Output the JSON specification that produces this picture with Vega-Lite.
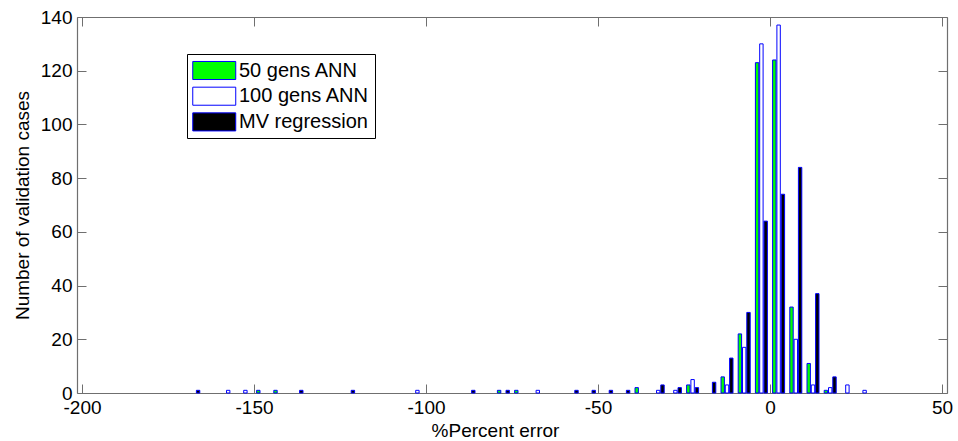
{
  "$schema": "https://vega.github.io/schema/vega-lite/v6.json",
  "width": 870,
  "height": 376,
  "autosize": {"type": "none"},
  "padding": {"left": 77, "top": 17, "right": 11, "bottom": 48},
  "background": "white",
  "config": {
    "font": "Liberation Sans",
    "view": {"stroke": null},
    "axis": {"grid": false, "domainColor": "#6f6f6f", "tickColor": "#6f6f6f", "labelColor": "black", "titleColor": "black", "labelFontSize": 19, "titleFontSize": 19, "titleFontWeight": "normal", "tickSize": -9, "domainWidth": 1.2},
    "legend": {"orient": "none", "legendX": 110, "legendY": 37, "symbolType": "M-1,-0.84L3,-0.84L3,0.84L-1,0.84Z", "symbolSize": 462, "symbolStrokeColor": "#0000ff", "symbolStrokeWidth": 1, "labelFontSize": 20, "strokeColor": "black", "fillColor": "white", "padding": 5, "rowPadding": 2.7, "labelOffset": 24, "symbolOpacity": 1}
  },
  "data": {"values": [
    {"bin": -147.5, "series": "50 gens ANN", "count": 1},
    {"bin": -142.5, "series": "50 gens ANN", "count": 1},
    {"bin": -77.5, "series": "50 gens ANN", "count": 1},
    {"bin": -72.5, "series": "50 gens ANN", "count": 1},
    {"bin": -37.5, "series": "50 gens ANN", "count": 2},
    {"bin": -22.5, "series": "50 gens ANN", "count": 3},
    {"bin": -12.5, "series": "50 gens ANN", "count": 6},
    {"bin": -7.5, "series": "50 gens ANN", "count": 22},
    {"bin": -2.5, "series": "50 gens ANN", "count": 123},
    {"bin": 2.5, "series": "50 gens ANN", "count": 124},
    {"bin": 7.5, "series": "50 gens ANN", "count": 32},
    {"bin": 12.5, "series": "50 gens ANN", "count": 11},
    {"bin": 17.5, "series": "50 gens ANN", "count": 1},
    {"bin": -157.5, "series": "100 gens ANN", "count": 1},
    {"bin": -152.5, "series": "100 gens ANN", "count": 1},
    {"bin": -102.5, "series": "100 gens ANN", "count": 1},
    {"bin": -67.5, "series": "100 gens ANN", "count": 1},
    {"bin": -32.5, "series": "100 gens ANN", "count": 1},
    {"bin": -27.5, "series": "100 gens ANN", "count": 1},
    {"bin": -22.5, "series": "100 gens ANN", "count": 5},
    {"bin": -12.5, "series": "100 gens ANN", "count": 3},
    {"bin": -7.5, "series": "100 gens ANN", "count": 17},
    {"bin": -2.5, "series": "100 gens ANN", "count": 130},
    {"bin": 2.5, "series": "100 gens ANN", "count": 137},
    {"bin": 7.5, "series": "100 gens ANN", "count": 20},
    {"bin": 12.5, "series": "100 gens ANN", "count": 3},
    {"bin": 17.5, "series": "100 gens ANN", "count": 2},
    {"bin": 22.5, "series": "100 gens ANN", "count": 3},
    {"bin": 27.5, "series": "100 gens ANN", "count": 1},
    {"bin": -167.5, "series": "MV regression", "count": 1},
    {"bin": -137.5, "series": "MV regression", "count": 1},
    {"bin": -122.5, "series": "MV regression", "count": 1},
    {"bin": -87.5, "series": "MV regression", "count": 1},
    {"bin": -77.5, "series": "MV regression", "count": 1},
    {"bin": -57.5, "series": "MV regression", "count": 1},
    {"bin": -52.5, "series": "MV regression", "count": 1},
    {"bin": -47.5, "series": "MV regression", "count": 1},
    {"bin": -42.5, "series": "MV regression", "count": 1},
    {"bin": -32.5, "series": "MV regression", "count": 3},
    {"bin": -27.5, "series": "MV regression", "count": 2},
    {"bin": -22.5, "series": "MV regression", "count": 2},
    {"bin": -17.5, "series": "MV regression", "count": 4},
    {"bin": -12.5, "series": "MV regression", "count": 13},
    {"bin": -7.5, "series": "MV regression", "count": 30},
    {"bin": -2.5, "series": "MV regression", "count": 64},
    {"bin": 2.5, "series": "MV regression", "count": 74},
    {"bin": 7.5, "series": "MV regression", "count": 84},
    {"bin": 12.5, "series": "MV regression", "count": 37},
    {"bin": 17.5, "series": "MV regression", "count": 6}
  ]},
  "resolve": {"axis": {"x": "independent", "y": "independent"}},
  "layer": [
    {
      "transform": [{"filter": "datum.series === '50 gens ANN'"}],
      "mark": {"type": "bar", "width": 3.4, "xOffset": -4.3, "stroke": "#0000ff", "strokeWidth": 1},
      "encoding": {
        "x": {"field": "bin", "type": "quantitative", "scale": {"domain": [-200, 50], "nice": false, "zero": false}, "axis": {"values": [-200, -150, -100, -50, 0, 50], "labelExpr": "replace(datum.label, '\u2212', '-')", "title": "%Percent error", "titleX": 418, "labelPadding": 14, "titlePadding": 4}},
        "y": {"field": "count", "type": "quantitative", "scale": {"domain": [0, 140], "nice": false}, "axis": {"values": [0, 20, 40, 60, 80, 100, 120, 140], "title": "Number of validation cases", "labelPadding": 14, "titlePadding": 8}},
        "fill": {"field": "series", "type": "nominal", "scale": {"domain": ["50 gens ANN", "100 gens ANN", "MV regression"], "range": ["#00ff00", "#ffffff", "#000000"]}, "legend": {"title": null}}
      }
    },
    {
      "transform": [{"filter": "datum.series === '100 gens ANN'"}],
      "mark": {"type": "bar", "width": 3.4, "xOffset": 0, "stroke": "#0000ff", "strokeWidth": 1},
      "encoding": {
        "x": {"field": "bin", "type": "quantitative", "axis": {"orient": "top", "values": [-200, -150, -100, -50, 0, 50], "labels": false, "title": null}},
        "y": {"field": "count", "type": "quantitative", "axis": {"orient": "right", "values": [0, 20, 40, 60, 80, 100, 120, 140], "labels": false, "title": null}},
        "fill": {"field": "series", "type": "nominal"}
      }
    },
    {
      "transform": [{"filter": "datum.series === 'MV regression'"}],
      "mark": {"type": "bar", "width": 3.4, "xOffset": 4.3, "stroke": "#0000ff", "strokeWidth": 1},
      "encoding": {
        "x": {"field": "bin", "type": "quantitative", "axis": null},
        "y": {"field": "count", "type": "quantitative", "axis": null},
        "fill": {"field": "series", "type": "nominal"}
      }
    }
  ]
}
